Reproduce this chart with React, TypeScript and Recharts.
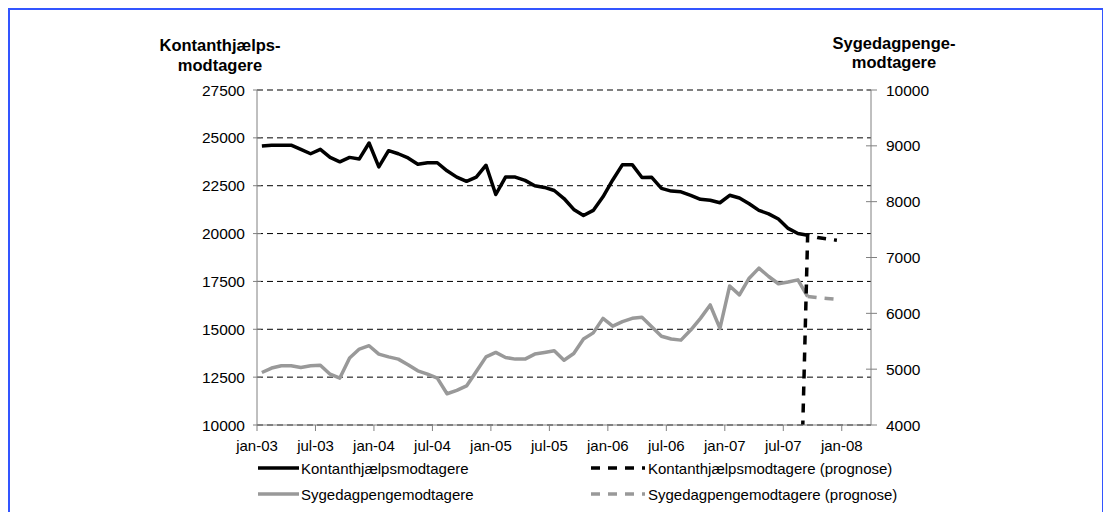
import React from 'react';
import { LineChart, Line, XAxis, YAxis, CartesianGrid, Legend, Label } from 'recharts';

// ---- data ----
const months = [
  'jan-03','feb-03','mar-03','apr-03','maj-03','jun-03','jul-03','aug-03','sep-03','okt-03','nov-03','dec-03',
  'jan-04','feb-04','mar-04','apr-04','maj-04','jun-04','jul-04','aug-04','sep-04','okt-04','nov-04','dec-04',
  'jan-05','feb-05','mar-05','apr-05','maj-05','jun-05','jul-05','aug-05','sep-05','okt-05','nov-05','dec-05',
  'jan-06','feb-06','mar-06','apr-06','maj-06','jun-06','jul-06','aug-06','sep-06','okt-06','nov-06','dec-06',
  'jan-07','feb-07','mar-07','apr-07','maj-07','jun-07','jul-07','aug-07','sep-07','okt-07','nov-07','dec-07',
];
const axisMonthCount = 63; // jan-03 .. mar-08
const tickLabels = ['jan-03','jul-03','jan-04','jul-04','jan-05','jul-05','jan-06','jul-06','jan-07','jul-07','jan-08'];

const kontanthjaelp = [
  24580, 24620, 24620, 24620, 24400, 24170, 24400, 23980, 23750, 23980, 23900, 24730,
  23480, 24330, 24170, 23950, 23620, 23700, 23700, 23280, 22950, 22730, 22950, 23570,
  22040, 22950, 22950, 22780, 22500, 22410, 22250, 21830, 21260, 20940, 21210, 21920,
  22800, 23600, 23600, 22930, 22940, 22360, 22220, 22180, 22000, 21790, 21740, 21610,
  22000, 21860, 21560, 21210, 21030, 20760, 20270, 20000, 19910,
];
const kontanthjaelpPrognoseStart = 55;
const kontanthjaelpPrognose = [0, 19910, 19790, 19720, 19650];

const sygedagpenge = [
  4940, 5020, 5060, 5060, 5030, 5060, 5070, 4910, 4840, 5200, 5360, 5420,
  5270, 5220, 5180, 5080, 4970, 4910, 4840, 4560, 4620, 4700, 4960, 5220,
  5300, 5210, 5180, 5180, 5270, 5300, 5330, 5160, 5280, 5540, 5650, 5910,
  5770, 5850, 5910, 5930, 5760, 5590, 5540, 5520, 5700, 5910, 6150, 5730,
  6490, 6330, 6630, 6810, 6660, 6530, 6560, 6600, 6300,
];
const sygedagpengePrognoseStart = 56;
const sygedagpengePrognose = [6300, 6280, 6265, 6250];

const leftTicks = [10000, 12500, 15000, 17500, 20000, 22500, 25000, 27500];
const rightTicks = [4000, 5000, 6000, 7000, 8000, 9000, 10000];

const rows = months.map((m, i) => ({
  x: i + 0.5,
  month: m,
  kont: i < kontanthjaelp.length ? kontanthjaelp[i] : null,
  kontP: i >= kontanthjaelpPrognoseStart ? kontanthjaelpPrognose[i - kontanthjaelpPrognoseStart] ?? null : null,
  syge: i < sygedagpenge.length ? sygedagpenge[i] : null,
  sygeP: i >= sygedagpengePrognoseStart ? sygedagpengePrognose[i - sygedagpengePrognoseStart] ?? null : null,
}));

const FONT = '"Liberation Sans", Arial, Helvetica, sans-serif';
const AXIS = '#808080';
const BLACK = '#000000';
const GRAY = '#999999';

const seriesStyle: Record<string, { color: string; dash?: string }> = {
  kont: { color: BLACK },
  kontP: { color: BLACK, dash: '9 8' },
  syge: { color: GRAY },
  sygeP: { color: GRAY, dash: '9 8' },
};
const legendOrder = ['kont', 'kontP', 'syge', 'sygeP'];

const LeftTick = (props: any) => {
  const { x, y, payload } = props;
  return (
    <g>
      <line x1={x + 8} x2={x + 16} y1={y} y2={y} stroke={AXIS} strokeWidth={1} />
      <text x={x} y={y} dy="0.355em" textAnchor="end" fontFamily={FONT} fontSize={15.5} fill="#000">
        {payload.value}
      </text>
    </g>
  );
};

const RightTick = (props: any) => {
  const { x, y, payload } = props;
  return (
    <g>
      <line x1={x - 20} x2={x - 9} y1={y} y2={y} stroke={AXIS} strokeWidth={1} />
      <text x={x} y={y} dy="0.355em" textAnchor="start" fontFamily={FONT} fontSize={15.5} fill="#000">
        {payload.value}
      </text>
    </g>
  );
};

const LegendContent = (props: any) => {
  const payload: any[] = props.payload || [];
  const items = legendOrder
    .map((k) => payload.find((p) => p.dataKey === k))
    .filter(Boolean);
  return (
    <div style={{ position: 'relative', height: 52, fontFamily: FONT, fontSize: 15, color: '#000' }}>
      {items.map((p: any, idx: number) => {
        const col = idx % 2;
        const row = Math.floor(idx / 2);
        const st = seriesStyle[p.dataKey];
        const w = col === 0 ? 43 : 56;
        return (
          <div
            key={p.dataKey}
            style={{
              position: 'absolute',
              left: col === 0 ? 248 : 581,
              top: row * 26,
              height: 26,
              display: 'flex',
              alignItems: 'center',
              whiteSpace: 'nowrap',
            }}
          >
            <svg width={w} height={10} style={{ display: 'block' }}>
              <line x1={0} x2={w - 2} y1={5} y2={5} stroke={st.color} strokeWidth={3.5} strokeDasharray={st.dash} />
            </svg>
            <span style={{ marginLeft: col === 0 ? 0 : 1 }}>{p.value}</span>
          </div>
        );
      })}
    </div>
  );
};

const LeftTitle = (props: any) => {
  const vb = props.viewBox || { x: 0, y: 0 };
  const cx = vb.x + 23;
  return (
    <text fontFamily={FONT} fontSize={16.5} fontWeight="bold" fill="#000" textAnchor="middle">
      <tspan x={cx} y={vb.y - 39}>Kontanthjælps-</tspan>
      <tspan x={cx} y={vb.y - 19}>modtagere</tspan>
    </text>
  );
};

const RightTitle = (props: any) => {
  const vb = props.viewBox || { x: 0, y: 0 };
  const cx = vb.x + 23;
  return (
    <text fontFamily={FONT} fontSize={16.5} fontWeight="bold" fill="#000" textAnchor="middle">
      <tspan x={cx} y={vb.y - 41}>Sygedagpenge-</tspan>
      <tspan x={cx} y={vb.y - 22}>modtagere</tspan>
    </text>
  );
};

export default function App() {
  return (
    <div
      style={{
        width: 1092,
        height: 520,
        border: '2px solid #3355ff',
        background: '#fff',
        fontFamily: FONT,
      }}
    >
      <LineChart
        width={1092}
        height={500}
        data={rows}
        margin={{ top: 80, right: 171, bottom: 3, left: 187 }}
      >
        <CartesianGrid
          yAxisId="left"
          horizontal={true}
          vertical={false}
          stroke="#000"
          strokeDasharray="6 4"
        />
        <XAxis
          dataKey="x"
          type="number"
          domain={[0, axisMonthCount]}
          ticks={tickLabels.map((_, i) => i * 6)}
          tickFormatter={(v: number) => tickLabels[Math.round(v / 6)]}
          interval={0}
          height={30}
          stroke={AXIS}
          tickSize={6}
          tickMargin={9}
          tick={{ fill: '#000', fontSize: 15, fontFamily: FONT }}
          allowDataOverflow
        />
        <YAxis
          yAxisId="left"
          orientation="left"
          domain={[10000, 27500]}
          ticks={leftTicks}
          interval={0}
          width={60}
          stroke={AXIS}
          tickLine={false}
          tickSize={4}
          tickMargin={8}
          tick={<LeftTick />}
          allowDataOverflow
        >
          <Label content={<LeftTitle />} />
        </YAxis>
        <YAxis
          yAxisId="right"
          orientation="right"
          domain={[4000, 10000]}
          ticks={rightTicks}
          interval={0}
          width={60}
          stroke={AXIS}
          tickLine={false}
          tickSize={5}
          tickMargin={10}
          tick={<RightTick />}
          allowDataOverflow
        >
          <Label content={<RightTitle />} />
        </YAxis>
        <Legend
          verticalAlign="bottom"
          content={<LegendContent />}
          wrapperStyle={{ left: 0, width: 1092 }}
        />
        <Line
          yAxisId="right"
          dataKey="syge"
          name="Sygedagpengemodtagere"
          stroke={GRAY}
          strokeWidth={3.5}
          dot={false}
          activeDot={false}
          isAnimationActive={false}
          connectNulls={false}
          strokeLinejoin="round"
        />
        <Line
          yAxisId="right"
          dataKey="sygeP"
          name="Sygedagpengemodtagere (prognose)"
          stroke={GRAY}
          strokeWidth={3.5}
          strokeDasharray={seriesStyle.sygeP.dash}
          dot={false}
          activeDot={false}
          isAnimationActive={false}
        />
        <Line
          yAxisId="left"
          dataKey="kont"
          name="Kontanthjælpsmodtagere"
          stroke={BLACK}
          strokeWidth={3.5}
          dot={false}
          activeDot={false}
          isAnimationActive={false}
          strokeLinejoin="round"
        />
        <Line
          yAxisId="left"
          dataKey="kontP"
          name="Kontanthjælpsmodtagere (prognose)"
          stroke={BLACK}
          strokeWidth={3.5}
          strokeDasharray={seriesStyle.kontP.dash}
          dot={false}
          activeDot={false}
          isAnimationActive={false}
        />
      </LineChart>
    </div>
  );
}
